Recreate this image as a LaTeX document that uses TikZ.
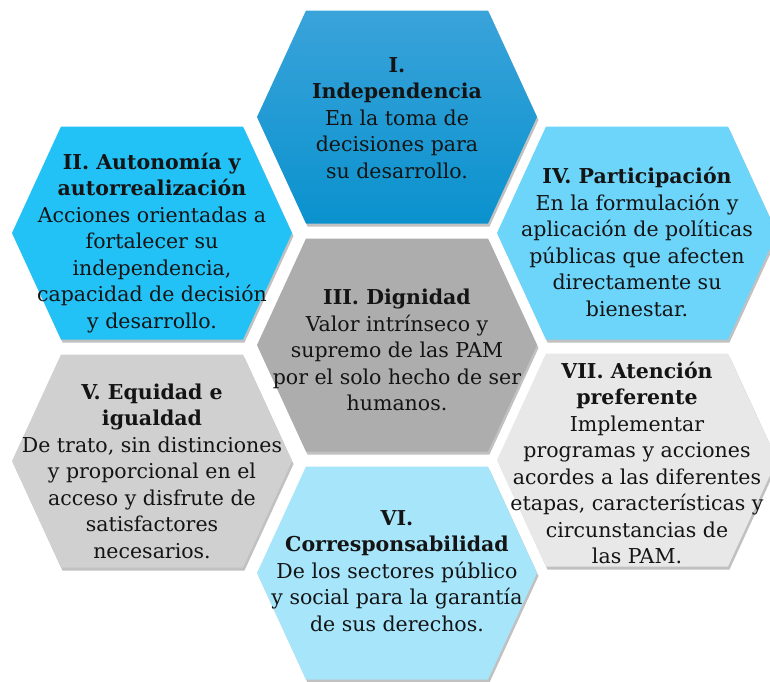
\documentclass[tikz,border=0pt]{standalone}
\usepackage{fontspec}
\setmainfont{DejaVu Serif}
\usetikzlibrary{shadows}
\definecolor{cI}{HTML}{0A92CE}
\definecolor{cItop}{HTML}{3AA3DA}
\definecolor{cII}{HTML}{22C1F6}
\definecolor{cIII}{HTML}{ADADAD}
\definecolor{cIV}{HTML}{6DD4FA}
\definecolor{cV}{HTML}{D0D0D0}
\definecolor{cVI}{HTML}{A6E5FA}
\definecolor{cVII}{HTML}{E8E8E8}
\tikzset{
  hexshadow/.style={drop shadow={shadow xshift=1.5pt,shadow yshift=-3pt,opacity=0.35,fill=black!70}},
  hextext/.style={align=center,inner sep=0pt,font=\fontsize{20.5}{26.5}\selectfont,text=black!92}
}
\newcommand{\hexpath}[2]{(#1-91,#2-106.5) -- (#1+91,#2-106.5) -- (#1+140,#2) -- (#1+91,#2+106.5) -- (#1-91,#2+106.5) -- (#1-140,#2) -- cycle}
\begin{document}
\begin{tikzpicture}[x=1pt,y=-1pt]
\useasboundingbox (0,0) rectangle (770,681);
% hexagons
\path[hexshadow,top color=cItop,bottom color=cI] \hexpath{397}{117};
\path[hexshadow,fill=cII] \hexpath{152}{233};
\path[hexshadow,fill=cIV] \hexpath{637}{233};
\path[hexshadow,fill=cIII] \hexpath{397}{345};
\path[hexshadow,fill=cV] \hexpath{152}{461};
\path[hexshadow,fill=cVII] \hexpath{637}{460};
\path[hexshadow,fill=cVI] \hexpath{397}{573};
% texts
\node[hextext] (tI) at (397,118) {\textbf{I.}\\\textbf{Independencia}\\En la toma de\\decisiones para\\su desarrollo.};
\node[hextext] (tII) at (152,243) {\textbf{II. Autonomía y}\\\textbf{autorrealización}\\Acciones orientadas a\\fortalecer su\\independencia,\\capacidad de decisión\\y desarrollo.};
\node[hextext] (tIII) at (397,350) {\textbf{III. Dignidad}\\Valor intrínseco y\\supremo de las PAM\\por el solo hecho de ser\\humanos.};
\node[hextext] (tIV) at (637,242) {\textbf{IV. Participación}\\En la formulación y\\aplicación de políticas\\públicas que afecten\\directamente su\\bienestar.};
\node[hextext] (tV) at (152,471) {\textbf{V. Equidad e}\\\textbf{igualdad}\\De trato, sin distinciones\\y proporcional en el\\acceso y disfrute de\\satisfactores\\necesarios.};
\node[hextext] (tVI) at (397,571) {\textbf{VI.}\\\textbf{Corresponsabilidad}\\De los sectores público\\y social para la garantía\\de sus derechos.};
\node[hextext] (tVII) at (637,463) {\textbf{VII. Atención}\\\textbf{preferente}\\Implementar\\programas y acciones\\acordes a las diferentes\\etapas, características y\\circunstancias de\\las PAM.};
\end{tikzpicture}
\end{document}
